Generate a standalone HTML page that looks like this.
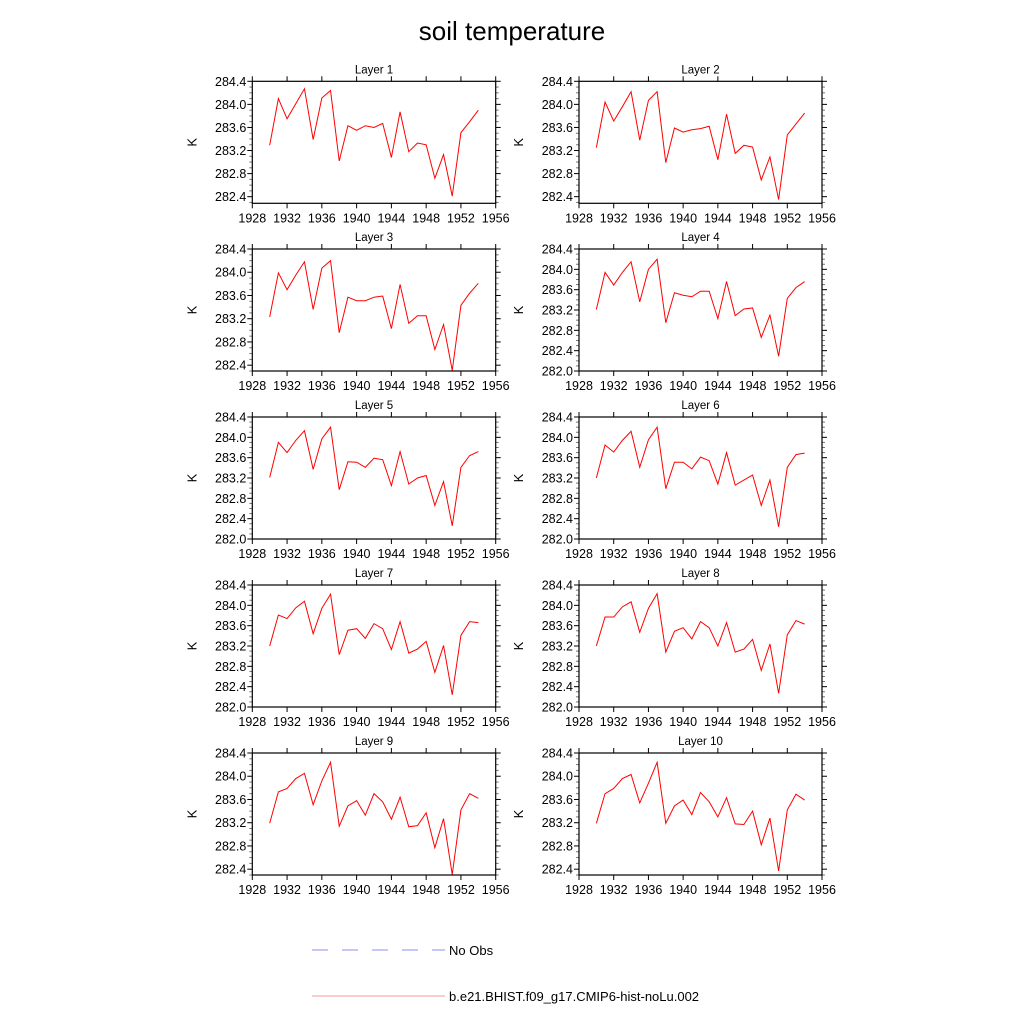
<!DOCTYPE html>
<html><head><meta charset="utf-8"><title>soil temperature</title>
<style>html,body{margin:0;padding:0;background:#fff}svg{display:block;font-family:"Liberation Sans",Arial,sans-serif}</style>
</head><body>
<svg id="chart" width="1024" height="1024" viewBox="0 0 1024 1024" xmlns="http://www.w3.org/2000/svg">
<rect width="1024" height="1024" fill="#fff"/>
<text x="512" y="40" text-anchor="middle" font-size="26">soil temperature</text>
<g id="panels"></g>
<g>
<line x1="312" y1="950" x2="445" y2="950" stroke="#8c8cf0" stroke-width="1" stroke-dasharray="16,14"/>
<text x="449" y="955" font-size="13">No Obs</text>
<line x1="312" y1="996" x2="445" y2="996" stroke="#f59a9a" stroke-width="1"/>
<text x="449" y="1001" font-size="13">b.e21.BHIST.f09_g17.CMIP6-hist-noLu.002</text>
</g>
</svg>
<script>
const years = [1930,1931,1932,1933,1934,1935,1936,1937,1938,1939,1940,1941,1942,1943,1944,1945,1946,1947,1948,1949,1950,1951,1952,1953,1954];
const xTicks = [1928,1932,1936,1940,1944,1948,1952,1956];
const layerNames = ["Layer 1","Layer 2","Layer 3","Layer 4","Layer 5","Layer 6","Layer 7","Layer 8","Layer 9","Layer 10"];
const layer1 = [283.29,284.10,283.75,284.01,284.27,283.39,284.11,284.24,283.02,283.63,283.55,283.63,283.60,283.67,283.08,283.87,283.18,283.33,283.30,282.72,283.13,282.41,283.51,283.70,283.90];
const layer2 = [283.25,284.04,283.71,283.96,284.22,283.38,284.07,284.22,282.99,283.59,283.52,283.56,283.58,283.62,283.04,283.83,283.15,283.29,283.26,282.69,283.09,282.35,283.47,283.66,283.85];
const layer3 = [283.23,283.99,283.70,283.95,284.18,283.36,284.07,284.20,282.96,283.57,283.51,283.51,283.57,283.59,283.03,283.79,283.12,283.25,283.25,282.67,283.10,282.31,283.43,283.64,283.81];
const layer4 = [283.21,283.94,283.69,283.94,284.15,283.36,284.00,284.20,282.95,283.54,283.49,283.46,283.57,283.57,283.03,283.76,283.09,283.22,283.24,282.66,283.10,282.29,283.43,283.64,283.76];
const layer5 = [283.21,283.90,283.70,283.94,284.13,283.37,283.97,284.20,282.97,283.52,283.51,283.41,283.59,283.56,283.05,283.72,283.08,283.20,283.25,282.66,283.13,282.26,283.41,283.64,283.72];
const layer6 = [283.20,283.85,283.71,283.94,284.12,283.41,283.95,284.20,282.99,283.51,283.51,283.38,283.61,283.54,283.08,283.70,283.06,283.16,283.26,282.66,283.16,282.24,283.41,283.66,283.69];
const layer7 = [283.20,283.81,283.74,283.95,284.08,283.44,283.94,284.22,283.03,283.51,283.54,283.35,283.64,283.54,283.13,283.68,283.06,283.14,283.29,282.68,283.21,282.24,283.41,283.68,283.66];
const layer8 = [283.20,283.77,283.77,283.97,284.07,283.47,283.94,284.23,283.08,283.49,283.56,283.34,283.68,283.56,283.20,283.66,283.08,283.14,283.33,282.72,283.24,282.27,283.42,283.70,283.63];
const layer9 = [283.19,283.73,283.79,283.96,284.05,283.51,283.92,284.24,283.14,283.49,283.58,283.33,283.70,283.56,283.26,283.64,283.13,283.15,283.37,282.77,283.27,282.31,283.42,283.70,283.62];
const layer10 = [283.19,283.70,283.79,283.96,284.03,283.54,283.88,284.24,283.19,283.49,283.59,283.34,283.72,283.56,283.30,283.63,283.18,283.17,283.40,282.82,283.28,282.37,283.42,283.69,283.59];
const layerSeries = [layer1,layer2,layer3,layer4,layer5,layer6,layer7,layer8,layer9,layer10];
const yMins = [282.285,282.285,282.30,282.0,282.0,282.0,282.0,282.0,282.30,282.30];
const yMax = 284.4;
const yTickLabels = ["282.0","282.4","282.8","283.2","283.6","284.0","284.4"];

const NS="http://www.w3.org/2000/svg";
const root=document.getElementById('panels');
function mk(tag,attrs,parent){const e=document.createElementNS(NS,tag);for(const k in attrs)e.setAttribute(k,attrs[k]);parent.appendChild(e);return e;}
const colX=[[252.3,495.7],[579,822]];
const rowY=[81.3,249,417,585,753];
const H=122;
for(let i=0;i<10;i++){
  const c=i%2,r=Math.floor(i/2);
  const x0=colX[c][0],x1=colX[c][1],y0=rowY[r],y1=y0+H;
  const ymin=yMins[i];
  const sx=v=>x0+(v-1928)/(1956-1928)*(x1-x0);
  const sy=v=>y1-(v-ymin)/(yMax-ymin)*(y1-y0);
  const g=mk('g',{},root);
  
  
  const t=mk('text',{x:(x0+x1)/2,y:y0-8,'text-anchor':'middle','font-size':11.5},g);
  
  
  t.textContent=layerNames[i];
  const k=mk('text',{x:0,y:0,'text-anchor':'middle','font-size':13,transform:`translate(${x0-56},${(y0+y1)/2}) rotate(-90)`},g);
  
  
  k.textContent='K';
  // x ticks
  xTicks.forEach(v=>{
    const x=sx(v);
    const a=mk('line',{x1:x,y1:y1,x2:x,y2:y1+5,stroke:'#000','stroke-width':1},g);
    
    
    const b=mk('line',{x1:x,y1:y0,x2:x,y2:y0-5,stroke:'#000','stroke-width':1},g);
    
    
    const l=mk('text',{x:x,y:y1+19,'text-anchor':'middle','font-size':12.5},g);
    
    
    l.textContent=String(v);
  });
  // y minor ticks
  for(let m=Math.ceil(ymin*10-1e-6);m<=yMax*10+1e-6;m++){
    const v=m/10,y=sy(v);
    const major=(Math.round(m)%4===0);
    const len=major?5:3;
    const a=mk('line',{x1:x0,y1:y,x2:x0-len,y2:y,stroke:major?'#000':'#777','stroke-width':1},g);
    
    
    const b=mk('line',{x1:x1,y1:y,x2:x1+len,y2:y,stroke:major?'#000':'#777','stroke-width':1},g);
    
    
  }
  yTickLabels.forEach(s=>{
    const v=parseFloat(s);
    if(v<ymin-1e-6)return;
    const l=mk('text',{x:x0-6,y:sy(v)+4.5,'text-anchor':'end','font-size':12.5},g);
    
    
    l.textContent=s;
  });
  const f=mk('rect',{x:x0,y:y0,width:x1-x0,height:H,fill:'none',stroke:'#000','stroke-width':1.2},g);
  
  
  const pts=years.map((yr,j)=>sx(yr).toFixed(2)+','+sy(layerSeries[i][j]).toFixed(2)).join(' ');
  const p=mk('polyline',{points:pts,fill:'none',stroke:'#ff0000','stroke-width':1},g);
  
  
}
</script>
</body></html>
